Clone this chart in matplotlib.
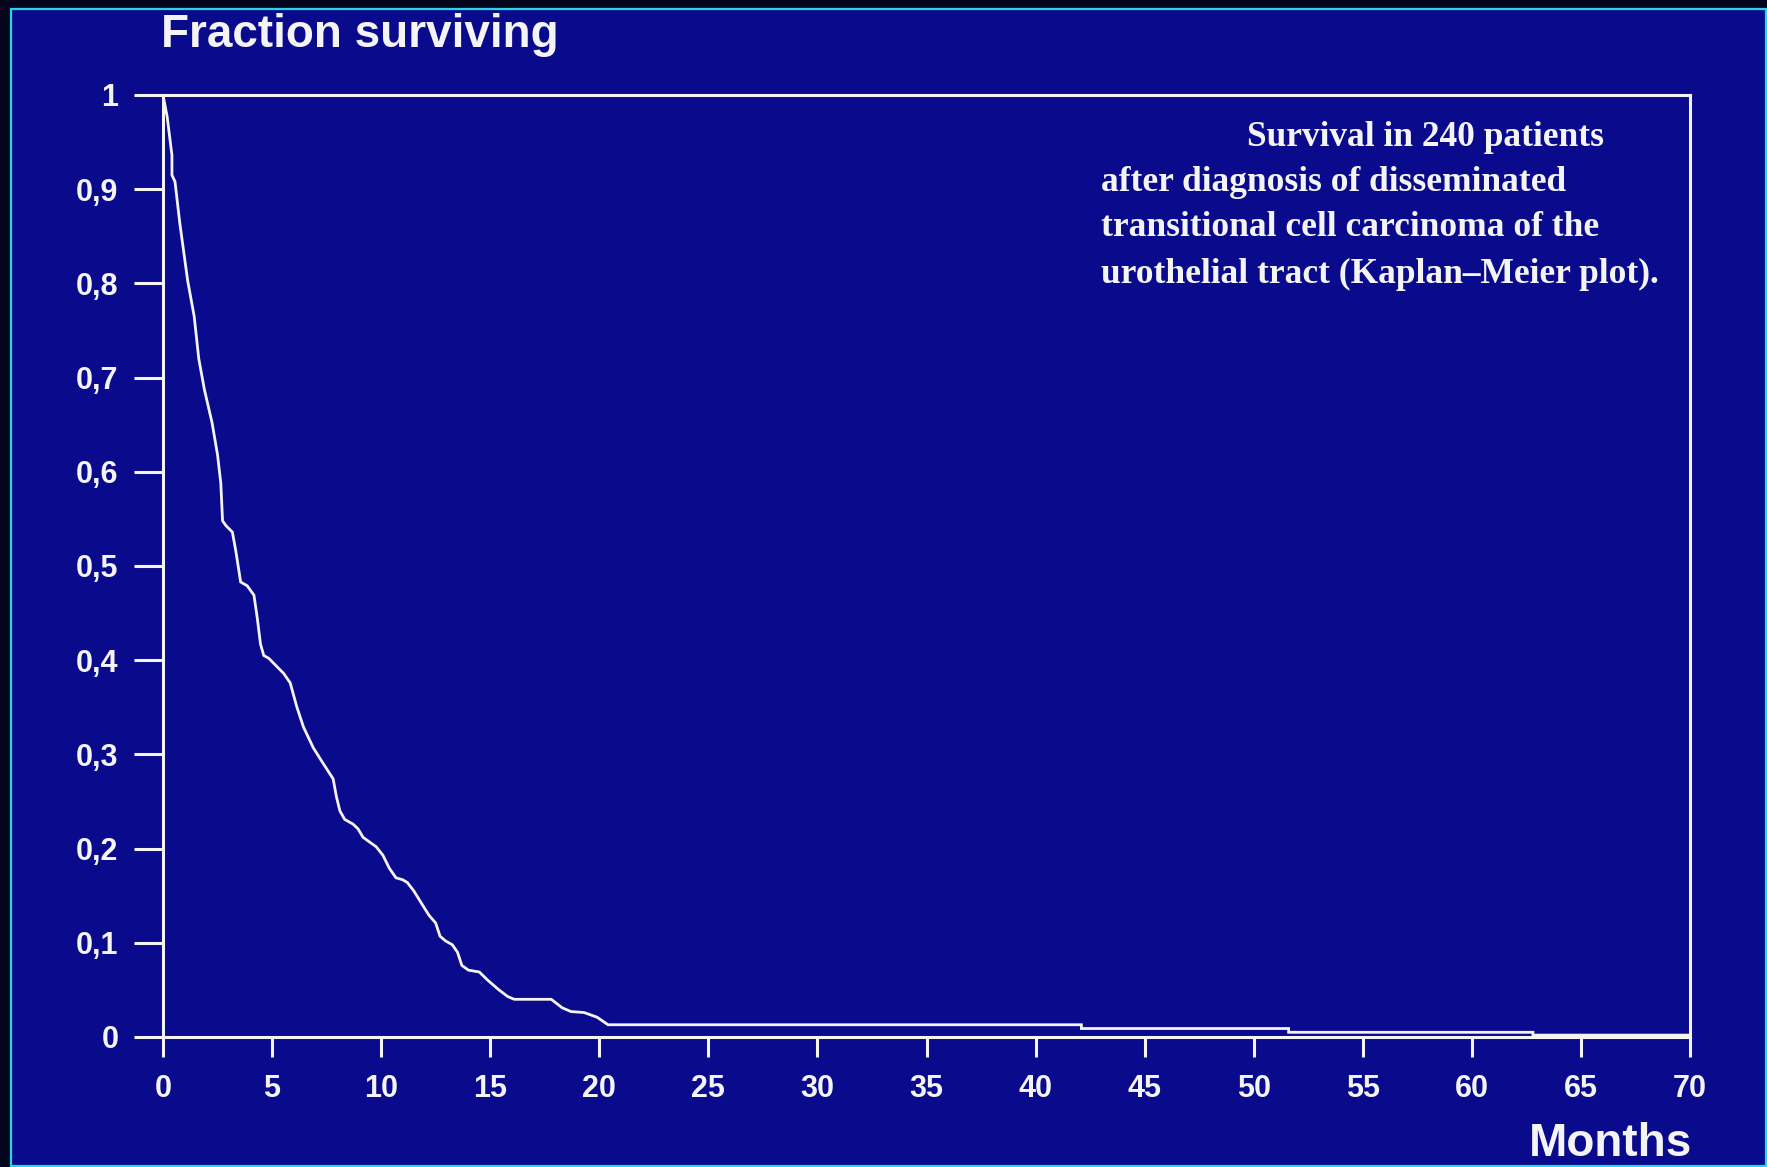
#!/usr/bin/env python3
"""
km_slide.py
Kaplan-Meier survival curve, redrawn in the style of an old slide
(white line art on dark blue, cyan frame around the slide).
"""

import matplotlib
matplotlib.use("Agg")
import matplotlib.pyplot as plt
from matplotlib.patches import Rectangle

# ── DATA ────────────────────────────────────────────────────────────────────
months = [0, 0.19, 0.41, 0.41, 0.55, 0.77, 1.13, 1.43, 1.64, 1.9, 2.25, 2.5,
          2.65, 2.73, 2.88, 3.18, 3.33, 3.56, 3.86, 4.17, 4.32, 4.47, 4.62,
          4.85, 5.23, 5.53, 5.83, 6.14, 6.44, 6.89, 7.27, 7.8, 7.95, 8.11,
          8.33, 8.71, 8.94, 9.17, 9.47, 9.77, 10.08, 10.38, 10.68, 10.98,
          11.2, 11.5, 11.9, 12.2, 12.5, 12.7, 12.95, 13.26, 13.5, 13.7, 14.0,
          14.5, 14.9, 15.4, 15.8, 16.1, 17.8, 18.3, 18.7, 19.3, 19.9, 20.4,
          42.1, 42.1, 51.6, 51.6, 62.8, 62.8, 70]
surviving = [1.0, 0.977, 0.936, 0.915, 0.908, 0.864, 0.803, 0.765, 0.72,
             0.687, 0.652, 0.618, 0.588, 0.548, 0.543, 0.536, 0.517, 0.483,
             0.479, 0.469, 0.445, 0.417, 0.405, 0.402, 0.393, 0.386, 0.376,
             0.35, 0.329, 0.307, 0.293, 0.274, 0.255, 0.24, 0.231, 0.226,
             0.221, 0.212, 0.207, 0.202, 0.193, 0.179, 0.169, 0.167, 0.164,
             0.155, 0.14, 0.129, 0.121, 0.107, 0.102, 0.098, 0.09, 0.076,
             0.071, 0.069, 0.06, 0.05, 0.043, 0.04, 0.04, 0.031, 0.027, 0.026,
             0.021, 0.013, 0.013, 0.009, 0.009, 0.005, 0.005, 0.002, 0.002]

x_ticks = list(range(0, 71, 5))
y_ticks = [0, 0.1, 0.2, 0.3, 0.4, 0.5, 0.6, 0.7, 0.8, 0.9, 1.0]
y_tick_labels = ["0", "0,1", "0,2", "0,3", "0,4", "0,5", "0,6", "0,7", "0,8", "0,9", "1"]

caption = ["Survival in 240 patients",
           "after diagnosis of disseminated",
           "transitional cell carcinoma of the",
           "urothelial tract (Kaplan\u2013Meier plot)."]

# ── STYLE ───────────────────────────────────────────────────────────────────
W, H = 1767, 1167
BG_OUT = "#05051e"
BG = "#0a0a8c"
FRAME = "#22d8e8"
INK = "#f4f4f4"
SANS = ["Liberation Sans", "DejaVu Sans"]
NARROW = ["Liberation Sans Narrow", "Liberation Sans", "DejaVu Sans"]
SERIF = ["Liberation Serif", "DejaVu Serif"]


def main():
    fig = plt.figure(figsize=(W / 100, H / 100), dpi=100, facecolor=BG_OUT)

    # slide background with the cyan frame (kept behind the axes)
    fig.patches.append(Rectangle((10.5 / W, 1 / H), (1766 - 10.5) / W, (1158 - 1) / H,
                                 transform=fig.transFigure, facecolor=BG,
                                 edgecolor=FRAME, linewidth=1.6, zorder=-10))

    ax = fig.add_axes([163 / W, 1 - 1037 / H, (1690 - 163) / W, (1037 - 95) / H])
    ax.set_facecolor("none")
    ax.set_zorder(5)

    ax.plot(months, surviving, color=INK, linewidth=2.0, solid_joinstyle="miter")

    ax.set_xlim(0, 70)
    ax.set_ylim(0, 1)
    ax.set_xticks(x_ticks)
    ax.set_yticks(y_ticks)
    ax.set_yticklabels(y_tick_labels)

    for s in ax.spines.values():
        s.set_color(INK)
        s.set_linewidth(2.2)

    ax.tick_params(axis="both", direction="out", width=2.2,
                   color=INK, labelcolor=INK, labelsize=22)
    ax.tick_params(axis="y", length=21, pad=11)
    ax.tick_params(axis="x", length=14.5, pad=12)
    for lab in ax.get_xticklabels() + ax.get_yticklabels():
        lab.set_family(NARROW)
        lab.set_fontweight("bold")

    # axis titles sit outside the frame, like on the slide
    fig.text(161 / W, 1 - 35 / H, "Fraction surviving", color=INK, fontsize=33,
             fontweight="bold", family=SANS, ha="left", va="center")
    fig.text(1692 / W, 1 - 1144 / H, "Months", color=INK, fontsize=33,
             fontweight="bold", family=SANS, ha="right", va="center")

    # caption block in the upper right
    cap_x = [1247, 1101, 1101, 1101]
    cap_y = [137, 182, 228, 274]
    for txt, cx, cy in zip(caption, cap_x, cap_y):
        fig.text(cx / W, 1 - cy / H, txt, color=INK, fontsize=25.5,
                 fontweight="bold", family=SERIF, ha="left", va="center")

    fig.savefig("out.png", dpi=100, facecolor=fig.get_facecolor())


if __name__ == "__main__":
    main()
